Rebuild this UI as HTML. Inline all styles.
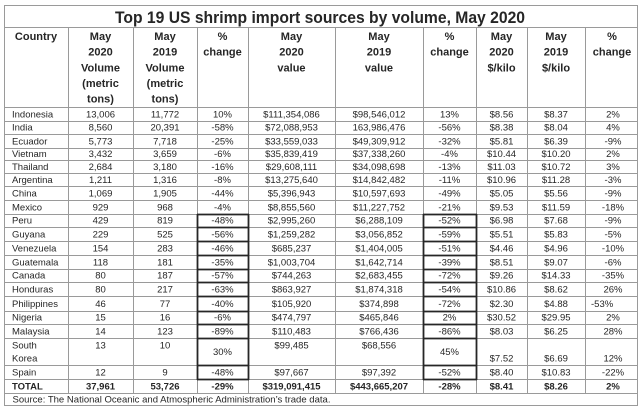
<!DOCTYPE html>
<html><head><meta charset="utf-8"><style>
html,body{margin:0;padding:0;background:#fff;width:640px;height:413px;overflow:hidden}
svg{display:block}
text{font-family:"Liberation Sans",Arial,sans-serif;fill:#262626}
.h{font-size:11px;font-weight:bold;text-anchor:middle}
.d{font-size:9.5px;text-anchor:middle}
.l{font-size:9.5px;text-anchor:start}
.b{font-weight:bold}
</style></head><body>
<svg width="640" height="413" viewBox="0 0 640 413" xmlns="http://www.w3.org/2000/svg">
<rect width="640" height="413" fill="#fff"/>
<g stroke="#9a9a9a" stroke-width="1" fill="none">
<rect x="4.5" y="5.5" width="633" height="400"/>
<line x1="4" y1="27.5" x2="638" y2="27.5"/>
<line x1="4" y1="107.5" x2="638" y2="107.5"/>
<line x1="4" y1="121.5" x2="638" y2="121.5"/>
<line x1="4" y1="134.5" x2="638" y2="134.5"/>
<line x1="4" y1="148.5" x2="638" y2="148.5"/>
<line x1="4" y1="160.5" x2="638" y2="160.5"/>
<line x1="4" y1="173.5" x2="638" y2="173.5"/>
<line x1="4" y1="186.5" x2="638" y2="186.5"/>
<line x1="4" y1="200.5" x2="638" y2="200.5"/>
<line x1="4" y1="214.5" x2="638" y2="214.5"/>
<line x1="4" y1="227.5" x2="638" y2="227.5"/>
<line x1="4" y1="241.5" x2="638" y2="241.5"/>
<line x1="4" y1="255.5" x2="638" y2="255.5"/>
<line x1="4" y1="269.5" x2="638" y2="269.5"/>
<line x1="4" y1="282.5" x2="638" y2="282.5"/>
<line x1="4" y1="296.5" x2="638" y2="296.5"/>
<line x1="4" y1="311.5" x2="638" y2="311.5"/>
<line x1="4" y1="324.5" x2="638" y2="324.5"/>
<line x1="4" y1="338.5" x2="638" y2="338.5"/>
<line x1="4" y1="365.5" x2="638" y2="365.5"/>
<line x1="4" y1="379.5" x2="638" y2="379.5"/>
<line x1="4" y1="393.5" x2="638" y2="393.5"/>
<line x1="68.5" y1="27" x2="68.5" y2="393"/>
<line x1="133.5" y1="27" x2="133.5" y2="393"/>
<line x1="197.5" y1="27" x2="197.5" y2="393"/>
<line x1="248.5" y1="27" x2="248.5" y2="393"/>
<line x1="335.5" y1="27" x2="335.5" y2="393"/>
<line x1="423.5" y1="27" x2="423.5" y2="393"/>
<line x1="476.5" y1="27" x2="476.5" y2="393"/>
<line x1="527.5" y1="27" x2="527.5" y2="393"/>
<line x1="585.5" y1="27" x2="585.5" y2="393"/>
</g>
<g stroke="#262626" stroke-width="1.8" fill="none">
<line x1="197.5" y1="214" x2="197.5" y2="380"/>
<line x1="248.5" y1="214" x2="248.5" y2="380"/>
<line x1="423.5" y1="214" x2="423.5" y2="380"/>
<line x1="476.5" y1="214" x2="476.5" y2="380"/>
<path d="M197 214.5H249M197 227.5H249M197 241.5H249M197 255.5H249M197 269.5H249M197 282.5H249M197 296.5H249M197 311.5H249M197 324.5H249M197 338.5H249M197 365.5H249M197 379.5H249"/>
<path d="M423 214.5H477M423 227.5H477M423 241.5H477M423 255.5H477M423 269.5H477M423 282.5H477M423 296.5H477M423 311.5H477M423 324.5H477M423 338.5H477M423 365.5H477M423 379.5H477"/>
</g>

<text x="320" y="23" text-anchor="middle" font-size="16.5" font-weight="bold" textLength="410" lengthAdjust="spacingAndGlyphs">Top 19 US shrimp import sources by volume, May 2020</text>

<!-- headers -->
<text class="h" x="36" y="40">Country</text>
<text class="h" x="100.5" y="40">May</text><text class="h" x="100.5" y="55.7">2020</text><text class="h" x="100.5" y="71.3">Volume</text><text class="h" x="100.5" y="87">(metric</text><text class="h" x="100.5" y="102.6">tons)</text>
<text class="h" x="165" y="40">May</text><text class="h" x="165" y="55.7">2019</text><text class="h" x="165" y="71.3">Volume</text><text class="h" x="165" y="87">(metric</text><text class="h" x="165" y="102.6">tons)</text>
<text class="h" x="222.5" y="40">%</text><text class="h" x="222.5" y="55.7">change</text>
<text class="h" x="291.5" y="40">May</text><text class="h" x="291.5" y="55.7">2020</text><text class="h" x="291.5" y="71.3">value</text>
<text class="h" x="379" y="40">May</text><text class="h" x="379" y="55.7">2019</text><text class="h" x="379" y="71.3">value</text>
<text class="h" x="449.5" y="40">%</text><text class="h" x="449.5" y="55.7">change</text>
<text class="h" x="501.5" y="40">May</text><text class="h" x="501.5" y="55.7">2020</text><text class="h" x="501.5" y="71.3">$/kilo</text>
<text class="h" x="556" y="40">May</text><text class="h" x="556" y="55.7">2019</text><text class="h" x="556" y="71.3">$/kilo</text>
<text class="h" x="612" y="40">%</text><text class="h" x="612" y="55.7">change</text>

<!-- rows -->
<g>
<text class="l" x="12" y="117.5">Indonesia</text><text class="d" x="100.5" y="117.5">13,006</text><text class="d" x="165" y="117.5">11,772</text><text class="d" x="222.5" y="117.5">10%</text><text class="d" x="291.5" y="117.5">$111,354,086</text><text class="d" x="379" y="117.5">$98,546,012</text><text class="d" x="449.5" y="117.5">13%</text><text class="d" x="501.5" y="117.5">$8.56</text><text class="d" x="556" y="117.5">$8.37</text><text class="d" x="613" y="117.5">2%</text>

<text class="l" x="12" y="130.7">India</text><text class="d" x="100.5" y="130.7">8,560</text><text class="d" x="165" y="130.7">20,391</text><text class="d" x="222.5" y="130.7">-58%</text><text class="d" x="291.5" y="130.7">$72,088,953</text><text class="d" x="379" y="130.7">163,986,476</text><text class="d" x="449.5" y="130.7">-56%</text><text class="d" x="501.5" y="130.7">$8.38</text><text class="d" x="556" y="130.7">$8.04</text><text class="d" x="613" y="130.7">4%</text>

<text class="l" x="12" y="144.5">Ecuador</text><text class="d" x="100.5" y="144.5">5,773</text><text class="d" x="165" y="144.5">7,718</text><text class="d" x="222.5" y="144.5">-25%</text><text class="d" x="291.5" y="144.5">$33,559,033</text><text class="d" x="379" y="144.5">$49,309,912</text><text class="d" x="449.5" y="144.5">-32%</text><text class="d" x="501.5" y="144.5">$5.81</text><text class="d" x="556" y="144.5">$6.39</text><text class="d" x="613" y="144.5">-9%</text>

<text class="l" x="12" y="157">Vietnam</text><text class="d" x="100.5" y="157">3,432</text><text class="d" x="165" y="157">3,659</text><text class="d" x="222.5" y="157">-6%</text><text class="d" x="291.5" y="157">$35,839,419</text><text class="d" x="379" y="157">$37,338,260</text><text class="d" x="449.5" y="157">-4%</text><text class="d" x="501.5" y="157">$10.44</text><text class="d" x="556" y="157">$10.20</text><text class="d" x="613" y="157">2%</text>

<text class="l" x="12" y="169.8">Thailand</text><text class="d" x="100.5" y="169.8">2,684</text><text class="d" x="165" y="169.8">3,180</text><text class="d" x="222.5" y="169.8">-16%</text><text class="d" x="291.5" y="169.8">$29,608,111</text><text class="d" x="379" y="169.8">$34,098,698</text><text class="d" x="449.5" y="169.8">-13%</text><text class="d" x="501.5" y="169.8">$11.03</text><text class="d" x="556" y="169.8">$10.72</text><text class="d" x="613" y="169.8">3%</text>

<text class="l" x="12" y="182.8">Argentina</text><text class="d" x="100.5" y="182.8">1,211</text><text class="d" x="165" y="182.8">1,316</text><text class="d" x="222.5" y="182.8">-8%</text><text class="d" x="291.5" y="182.8">$13,275,640</text><text class="d" x="379" y="182.8">$14,842,482</text><text class="d" x="449.5" y="182.8">-11%</text><text class="d" x="501.5" y="182.8">$10.96</text><text class="d" x="556" y="182.8">$11.28</text><text class="d" x="613" y="182.8">-3%</text>

<text class="l" x="12" y="196.5">China</text><text class="d" x="100.5" y="196.5">1,069</text><text class="d" x="165" y="196.5">1,905</text><text class="d" x="222.5" y="196.5">-44%</text><text class="d" x="291.5" y="196.5">$5,396,943</text><text class="d" x="379" y="196.5">$10,597,693</text><text class="d" x="449.5" y="196.5">-49%</text><text class="d" x="501.5" y="196.5">$5.05</text><text class="d" x="556" y="196.5">$5.56</text><text class="d" x="613" y="196.5">-9%</text>

<text class="l" x="12" y="210.5">Mexico</text><text class="d" x="100.5" y="210.5">929</text><text class="d" x="165" y="210.5">968</text><text class="d" x="222.5" y="210.5">-4%</text><text class="d" x="291.5" y="210.5">$8,855,560</text><text class="d" x="379" y="210.5">$11,227,752</text><text class="d" x="449.5" y="210.5">-21%</text><text class="d" x="501.5" y="210.5">$9.53</text><text class="d" x="556" y="210.5">$11.59</text><text class="d" x="613" y="210.5">-18%</text>

<text class="l" x="12" y="223.7">Peru</text><text class="d" x="100.5" y="223.7">429</text><text class="d" x="165" y="223.7">819</text><text class="d" x="222.5" y="223.7">-48%</text><text class="d" x="291.5" y="223.7">$2,995,260</text><text class="d" x="379" y="223.7">$6,288,109</text><text class="d" x="449.5" y="223.7">-52%</text><text class="d" x="501.5" y="223.7">$6.98</text><text class="d" x="556" y="223.7">$7.68</text><text class="d" x="613" y="223.7">-9%</text>

<text class="l" x="12" y="237.5">Guyana</text><text class="d" x="100.5" y="237.5">229</text><text class="d" x="165" y="237.5">525</text><text class="d" x="222.5" y="237.5">-56%</text><text class="d" x="291.5" y="237.5">$1,259,282</text><text class="d" x="379" y="237.5">$3,056,852</text><text class="d" x="449.5" y="237.5">-59%</text><text class="d" x="501.5" y="237.5">$5.51</text><text class="d" x="556" y="237.5">$5.83</text><text class="d" x="613" y="237.5">-5%</text>

<text class="l" x="12" y="251.5">Venezuela</text><text class="d" x="100.5" y="251.5">154</text><text class="d" x="165" y="251.5">283</text><text class="d" x="222.5" y="251.5">-46%</text><text class="d" x="291.5" y="251.5">$685,237</text><text class="d" x="379" y="251.5">$1,404,005</text><text class="d" x="449.5" y="251.5">-51%</text><text class="d" x="501.5" y="251.5">$4.46</text><text class="d" x="556" y="251.5">$4.96</text><text class="d" x="613" y="251.5">-10%</text>

<text class="l" x="12" y="265.5">Guatemala</text><text class="d" x="100.5" y="265.5">118</text><text class="d" x="165" y="265.5">181</text><text class="d" x="222.5" y="265.5">-35%</text><text class="d" x="291.5" y="265.5">$1,003,704</text><text class="d" x="379" y="265.5">$1,642,714</text><text class="d" x="449.5" y="265.5">-39%</text><text class="d" x="501.5" y="265.5">$8.51</text><text class="d" x="556" y="265.5">$9.07</text><text class="d" x="613" y="265.5">-6%</text>

<text class="l" x="12" y="278.7">Canada</text><text class="d" x="100.5" y="278.7">80</text><text class="d" x="165" y="278.7">187</text><text class="d" x="222.5" y="278.7">-57%</text><text class="d" x="291.5" y="278.7">$744,263</text><text class="d" x="379" y="278.7">$2,683,455</text><text class="d" x="449.5" y="278.7">-72%</text><text class="d" x="501.5" y="278.7">$9.26</text><text class="d" x="556" y="278.7">$14.33</text><text class="d" x="613" y="278.7">-35%</text>

<text class="l" x="12" y="292.5">Honduras</text><text class="d" x="100.5" y="292.5">80</text><text class="d" x="165" y="292.5">217</text><text class="d" x="222.5" y="292.5">-63%</text><text class="d" x="291.5" y="292.5">$863,927</text><text class="d" x="379" y="292.5">$1,874,318</text><text class="d" x="449.5" y="292.5">-54%</text><text class="d" x="501.5" y="292.5">$10.86</text><text class="d" x="556" y="292.5">$8.62</text><text class="d" x="613" y="292.5">26%</text>

<text class="l" x="12" y="307">Philippines</text><text class="d" x="100.5" y="307">46</text><text class="d" x="165" y="307">77</text><text class="d" x="222.5" y="307">-40%</text><text class="d" x="291.5" y="307">$105,920</text><text class="d" x="379" y="307">$374,898</text><text class="d" x="449.5" y="307">-72%</text><text class="d" x="501.5" y="307">$2.30</text><text class="d" x="556" y="307">$4.88</text><text class="l" x="591" y="307">-53%</text>

<text class="l" x="12" y="320.5">Nigeria</text><text class="d" x="100.5" y="320.5">15</text><text class="d" x="165" y="320.5">16</text><text class="d" x="222.5" y="320.5">-6%</text><text class="d" x="291.5" y="320.5">$474,797</text><text class="d" x="379" y="320.5">$465,846</text><text class="d" x="449.5" y="320.5">2%</text><text class="d" x="501.5" y="320.5">$30.52</text><text class="d" x="556" y="320.5">$29.95</text><text class="d" x="613" y="320.5">2%</text>

<text class="l" x="12" y="334.3">Malaysia</text><text class="d" x="100.5" y="334.3">14</text><text class="d" x="165" y="334.3">123</text><text class="d" x="222.5" y="334.3">-89%</text><text class="d" x="291.5" y="334.3">$110,483</text><text class="d" x="379" y="334.3">$766,436</text><text class="d" x="449.5" y="334.3">-86%</text><text class="d" x="501.5" y="334.3">$8.03</text><text class="d" x="556" y="334.3">$6.25</text><text class="d" x="613" y="334.3">28%</text>

<text class="l" x="12" y="348.5">South</text><text class="l" x="12" y="361.7">Korea</text><text class="d" x="100.5" y="348.5">13</text><text class="d" x="165" y="348.5">10</text><text class="d" x="222.5" y="355">30%</text><text class="d" x="291.5" y="348.5">$99,485</text><text class="d" x="379" y="348.5">$68,556</text><text class="d" x="449.5" y="355">45%</text><text class="d" x="501.5" y="361.7">$7.52</text><text class="d" x="556" y="361.7">$6.69</text><text class="d" x="613" y="361.7">12%</text>

<text class="l" x="12" y="375.5">Spain</text><text class="d" x="100.5" y="375.5">12</text><text class="d" x="165" y="375.5">9</text><text class="d" x="222.5" y="375.5">-48%</text><text class="d" x="291.5" y="375.5">$97,667</text><text class="d" x="379" y="375.5">$97,392</text><text class="d" x="449.5" y="375.5">-52%</text><text class="d" x="501.5" y="375.5">$8.40</text><text class="d" x="556" y="375.5">$10.83</text><text class="d" x="613" y="375.5">-22%</text>

<text class="l b" x="12" y="389.5">TOTAL</text><text class="d b" x="100.5" y="389.5">37,961</text><text class="d b" x="165" y="389.5">53,726</text><text class="d b" x="222.5" y="389.5">-29%</text><text class="d b" x="291.5" y="389.5">$319,091,415</text><text class="d b" x="379" y="389.5">$443,665,207</text><text class="d b" x="449.5" y="389.5">-28%</text><text class="d b" x="501.5" y="389.5">$8.41</text><text class="d b" x="556" y="389.5">$8.26</text><text class="d b" x="613" y="389.5">2%</text>

<text class="l" x="12.5" y="402.5" font-size="10" textLength="318" lengthAdjust="spacingAndGlyphs">Source: The National Oceanic and Atmospheric Administration’s trade data.</text>
</g>
</svg>
</body></html>
